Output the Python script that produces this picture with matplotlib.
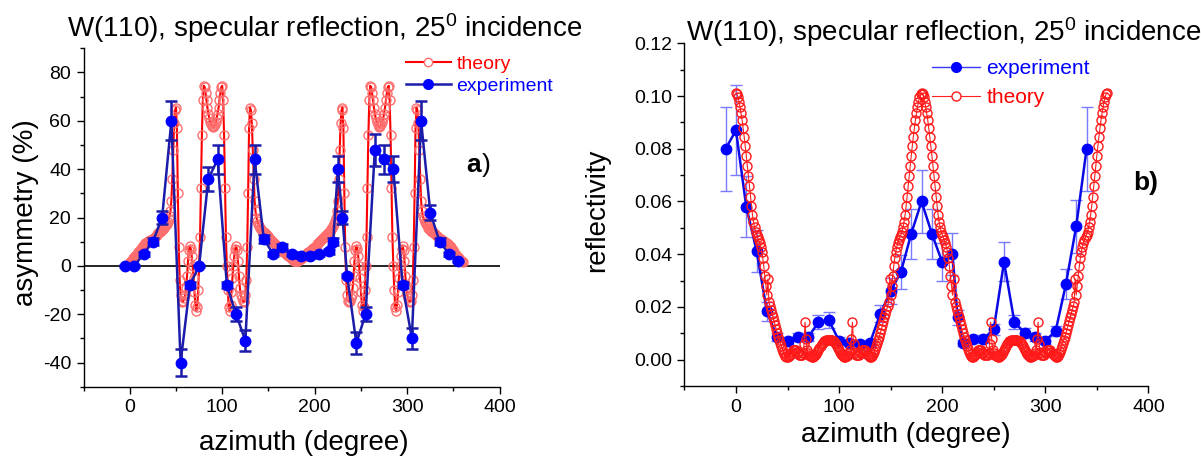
#!/usr/bin/env python3
"""W(110), specular reflection at 25 deg incidence.

Left: spin asymmetry vs azimuth, right: reflectivity vs azimuth.
Writes out.png.
"""

import matplotlib

matplotlib.use("Agg")
import matplotlib.pyplot as plt
from matplotlib.lines import Line2D
from matplotlib.ticker import FormatStrFormatter, MultipleLocator

W, H = 1201, 457

# ---- panel a: asymmetry (%) ----
ASYM_EXP_X = [-5, 5, 15, 25, 35, 45, 55, 65, 75, 85, 95, 105, 115, 125, 135, 145, 155, 165, 175,
              185, 195, 205, 215, 220, 225, 230, 235, 245, 255, 265, 275, 285, 295, 305, 315,
              325, 335, 345, 355]
ASYM_EXP_Y = [0, 0, 5, 10, 20, 60, -40, -8, 0, 36, 44, -8, -20, -31, 44, 11, 5, 8, 5,
              4, 4, 5, 6, 10, 40, 20, -4, -32, -20, 48, 44, 40, -8, -30, 60,
              22, 10, 5, 2]
ASYM_EXP_ERR = [0.3, 0.3, 0.8, 1.5, 2.8, 8, 5.5, 1.2, 0.3, 5, 6, 1.2, 2.8, 4.3, 6, 1.6, 0.8, 1.2, 0.8,
                0.6, 0.6, 0.8, 0.9, 1.5, 5.5, 2.8, 0.6, 4.5, 2.8, 6.5, 6, 5.5, 1.2, 4.3, 8,
                3, 1.5, 0.8, 0.3]

# calculated asymmetry, one value per degree from 0 to 360
ASYM_THEO_X = list(range(0, 361))
ASYM_THEO_Y = [
    1.5, 1.8, 2.1, 2.6, 3.1, 3.6, 4.1, 4.6, 5.1, 5.6,
    6.1, 6.6, 7.1, 7.6, 8.1, 8.6, 9.0, 9.3, 9.6, 9.9,
    10.2, 10.4, 10.6, 10.8, 11.0, 11.3, 11.6, 11.9, 12.3, 12.7,
    13.1, 13.5, 13.9, 14.2, 14.6, 15.0, 15.4, 15.8, 16.3, 16.9,
    17.5, 18.2, 19.2, 20.5, 22.5, 27.0, 36.0, 48.0, 59.0, 64.5,
    65.5, 57.0, 30.0, 8.0, -6.0, -12.0, -14.5, -15.0, -14.5, -13.5,
    -12.0, -9.0, -4.0, 2.0, 6.5, 8.3, 7.0, 4.0, 0.0, -5.0,
    -11.0, -16.0, -18.6, -17.0, -10.0, 0.0, 12.0, 32.0, 54.0, 68.5,
    74.5, 74.0, 71.5, 68.5, 65.5, 63.0, 61.0, 59.5, 58.5, 57.8,
    57.5, 57.8, 58.5, 59.5, 61.0, 63.0, 65.5, 68.5, 71.5, 74.0,
    74.5, 68.5, 54.0, 32.0, 12.0, 0.0, -10.0, -17.0, -18.6, -16.0,
    -11.0, -5.0, 0.0, 4.0, 7.0, 8.3, 6.5, 2.0, -4.0, -9.0,
    -12.0, -13.5, -14.5, -15.0, -14.5, -12.0, -6.0, 8.0, 30.0, 57.0,
    65.5, 64.5, 59.0, 48.0, 36.0, 27.0, 22.5, 20.0, 18.5, 17.3,
    16.4, 15.7, 15.1, 14.6, 14.2, 13.8, 13.4, 13.0, 12.6, 12.2,
    11.8, 11.4, 11.0, 10.6, 10.2, 9.8, 9.4, 9.0, 8.6, 8.2,
    7.8, 7.5, 7.2, 6.9, 6.6, 6.3, 5.9, 5.6, 5.2, 4.9,
    4.5, 4.2, 3.9, 3.6, 3.3, 3.0, 2.7, 2.4, 2.2, 2.0,
    1.9,
    2.0, 2.2, 2.4, 2.7, 3.0, 3.3, 3.6, 3.9, 4.2, 4.5,
    4.9, 5.2, 5.6, 5.9, 6.3, 6.6, 6.9, 7.2, 7.5, 7.8,
    8.2, 8.6, 9.0, 9.4, 9.8, 10.2, 10.6, 11.0, 11.4, 11.8,
    12.2, 12.6, 13.0, 13.4, 13.8, 14.2, 14.6, 15.1, 15.7, 16.4,
    17.3, 18.5, 20.0, 22.5, 27.0, 36.0, 48.0, 59.0, 64.5, 65.5,
    57.0, 30.0, 8.0, -6.0, -12.0, -14.5, -15.0, -14.5, -13.5, -12.0,
    -9.0, -4.0, 2.0, 6.5, 8.3, 7.0, 4.0, 0.0, -5.0, -11.0,
    -16.0, -18.6, -17.0, -10.0, 0.0, 12.0, 32.0, 54.0, 68.5, 74.5,
    74.0, 71.5, 68.5, 65.5, 63.0, 61.0, 59.5, 58.5, 57.8, 57.5,
    57.8, 58.5, 59.5, 61.0, 63.0, 65.5, 68.5, 71.5, 74.0, 74.5,
    68.5, 54.0, 32.0, 12.0, 0.0, -10.0, -17.0, -18.6, -16.0, -11.0,
    -5.0, 0.0, 4.0, 7.0, 8.3, 6.5, 2.0, -4.0, -9.0, -12.0,
    -13.5, -14.5, -15.0, -14.5, -12.0, -6.0, 8.0, 30.0, 57.0, 65.5,
    64.5, 59.0, 48.0, 36.0, 27.0, 22.5, 20.5, 19.2, 18.2, 17.5,
    16.9, 16.3, 15.8, 15.4, 15.0, 14.6, 14.2, 13.9, 13.5, 13.1,
    12.7, 12.3, 11.9, 11.6, 11.3, 11.0, 10.8, 10.6, 10.4, 10.2,
    9.9, 9.6, 9.3, 9.0, 8.6, 8.1, 7.6, 7.1, 6.6, 6.1,
    5.6, 5.1, 4.6, 4.1, 3.6, 3.1, 2.6, 2.1, 1.8, 1.5,
]

# ---- panel b: reflectivity ----
REFL_EXP_X = [-10, 0, 10, 20, 30, 40, 50, 60, 70, 80, 90, 100, 110, 120, 130, 140, 150, 160,
              170, 180, 190, 200, 210, 215, 220, 230, 240, 250, 260, 270, 280, 290, 300,
              310, 320, 330, 340]
REFL_EXP_Y = [0.080, 0.087, 0.058, 0.0413, 0.0183, 0.0085, 0.0072, 0.0085, 0.0085, 0.0142,
              0.0150, 0.0072, 0.0064, 0.0060, 0.0064, 0.0174, 0.026, 0.0333, 0.0478, 0.0600,
              0.0478, 0.0370, 0.0400, 0.0160, 0.0064, 0.0079, 0.0079, 0.0115, 0.0371, 0.0143,
              0.0101, 0.0086, 0.0072, 0.0108, 0.0286, 0.0506, 0.0798]
REFL_EXP_ERR = [0.016, 0.017, 0.0115, 0.008, 0.0035, 0.0015, 0.0012, 0.0015, 0.0015, 0.0027,
                0.003, 0.0012, 0.0011, 0.001, 0.0011, 0.0033, 0.005, 0.0065, 0.0095, 0.012,
                0.0095, 0.0072, 0.008, 0.003, 0.0011, 0.0014, 0.0014, 0.0022, 0.0074, 0.0027,
                0.0019, 0.0016, 0.0013, 0.002, 0.0057, 0.010, 0.016]

REFL_THEO_X = list(range(0, 361))
REFL_THEO_Y = [
    0.1012,
    0.1008, 0.0996, 0.0979, 0.0958, 0.0934, 0.0908, 0.0878, 0.0845, 0.0810, 0.0774,
    0.0736, 0.0697, 0.0657, 0.0618, 0.0582, 0.0550, 0.0523, 0.0502, 0.0486, 0.0474,
    0.0464, 0.0454, 0.0443, 0.0429, 0.0410, 0.0385, 0.0354, 0.0318, 0.0280, 0.0245,
    0.0305, 0.0218, 0.0202, 0.0188, 0.0174, 0.0160, 0.0145, 0.0130, 0.0115, 0.0100,
    0.0087, 0.0074, 0.0062, 0.0050, 0.0040, 0.0030, 0.0022, 0.0015, 0.0011, 0.0010,
    0.0012, 0.0017, 0.0023, 0.0030, 0.0035, 0.0038, 0.0038, 0.0035, 0.0030, 0.0024,
    0.0019, 0.0016, 0.0016, 0.0019, 0.0026, 0.0060, 0.0142, 0.0080, 0.0035, 0.0025,
    0.0019, 0.0015, 0.0012, 0.0010, 0.0010, 0.0012, 0.0016, 0.0022, 0.0030, 0.0038,
    0.0046, 0.0053, 0.0060, 0.0065, 0.0069, 0.0072, 0.0074, 0.0075, 0.0075, 0.0075,
    0.0075, 0.0075, 0.0074, 0.0072, 0.0069, 0.0065, 0.0060, 0.0053, 0.0046, 0.0038,
    0.0030, 0.0022, 0.0016, 0.0012, 0.0010, 0.0010, 0.0012, 0.0015, 0.0019, 0.0025,
    0.0035, 0.0080, 0.0142, 0.0060, 0.0026, 0.0019, 0.0016, 0.0016, 0.0019, 0.0024,
    0.0030, 0.0035, 0.0038, 0.0038, 0.0035, 0.0030, 0.0023, 0.0017, 0.0012, 0.0010,
    0.0011, 0.0015, 0.0022, 0.0030, 0.0040, 0.0050, 0.0062, 0.0074, 0.0087, 0.0100,
    0.0115, 0.0130, 0.0145, 0.0160, 0.0174, 0.0188, 0.0202, 0.0218, 0.0305, 0.0245,
    0.0280, 0.0318, 0.0354, 0.0385, 0.0410, 0.0429, 0.0443, 0.0454, 0.0464, 0.0474,
    0.0486, 0.0502, 0.0523, 0.0550, 0.0582, 0.0618, 0.0657, 0.0697, 0.0736, 0.0774,
    0.0810, 0.0845, 0.0878, 0.0908, 0.0934, 0.0958, 0.0979, 0.0996, 0.1008, 0.1012,
    0.1008, 0.0996, 0.0979, 0.0958, 0.0934, 0.0908, 0.0878, 0.0845, 0.0810, 0.0774,
    0.0736, 0.0697, 0.0657, 0.0618, 0.0582, 0.0550, 0.0523, 0.0502, 0.0486, 0.0474,
    0.0464, 0.0454, 0.0443, 0.0429, 0.0410, 0.0385, 0.0354, 0.0318, 0.0280, 0.0245,
    0.0305, 0.0218, 0.0202, 0.0188, 0.0174, 0.0160, 0.0145, 0.0130, 0.0115, 0.0100,
    0.0087, 0.0074, 0.0062, 0.0050, 0.0040, 0.0030, 0.0022, 0.0015, 0.0011, 0.0010,
    0.0012, 0.0017, 0.0023, 0.0030, 0.0035, 0.0038, 0.0038, 0.0035, 0.0030, 0.0024,
    0.0019, 0.0016, 0.0016, 0.0019, 0.0026, 0.0060, 0.0142, 0.0080, 0.0035, 0.0025,
    0.0019, 0.0015, 0.0012, 0.0010, 0.0010, 0.0012, 0.0016, 0.0022, 0.0030, 0.0038,
    0.0046, 0.0053, 0.0060, 0.0065, 0.0069, 0.0072, 0.0074, 0.0075, 0.0075, 0.0075,
    0.0075, 0.0075, 0.0074, 0.0072, 0.0069, 0.0065, 0.0060, 0.0053, 0.0046, 0.0038,
    0.0030, 0.0022, 0.0016, 0.0012, 0.0010, 0.0010, 0.0012, 0.0015, 0.0019, 0.0025,
    0.0035, 0.0080, 0.0142, 0.0060, 0.0026, 0.0019, 0.0016, 0.0016, 0.0019, 0.0024,
    0.0030, 0.0035, 0.0038, 0.0038, 0.0035, 0.0030, 0.0023, 0.0017, 0.0012, 0.0010,
    0.0011, 0.0015, 0.0022, 0.0030, 0.0040, 0.0050, 0.0062, 0.0074, 0.0087, 0.0100,
    0.0115, 0.0130, 0.0145, 0.0160, 0.0174, 0.0188, 0.0202, 0.0218, 0.0305, 0.0245,
    0.0280, 0.0318, 0.0354, 0.0385, 0.0410, 0.0429, 0.0443, 0.0454, 0.0464, 0.0474,
    0.0486, 0.0502, 0.0523, 0.0550, 0.0582, 0.0618, 0.0657, 0.0697, 0.0736, 0.0774,
    0.0810, 0.0845, 0.0878, 0.0908, 0.0934, 0.0958, 0.0979, 0.0996, 0.1008, 0.1012,
]

TITLE = "W(110), specular reflection, 25$^{0}$ incidence"


def px(x, y):
    """pixel position (from top-left) -> figure fraction"""
    return x / W, 1 - y / H


def base_style():
    plt.rcParams.update(
        {
            "font.family": "Liberation Sans",
            "mathtext.fontset": "custom",
            "mathtext.rm": "Liberation Sans",
            "mathtext.it": "Liberation Sans",
            "font.size": 14,
            "axes.linewidth": 1.0,
            "axes.unicode_minus": False,
        }
    )


def style_axes(ax):
    for side in ("top", "right"):
        ax.spines[side].set_visible(False)
    ax.tick_params(which="both", direction="out", width=1.0, labelsize=14, pad=4)
    ax.tick_params(which="major", length=5)
    ax.tick_params(which="minor", length=3)
    ax.xaxis.set_major_locator(MultipleLocator(100))
    ax.xaxis.set_minor_locator(MultipleLocator(50))
    ax.set_xlim(-50, 400)


def panel_a(fig):
    ax = fig.add_axes([83.5 / W, 70.3 / H, 416.2 / W, 338.4 / H])
    style_axes(ax)
    ax.set_ylim(-50, 90)
    ax.yaxis.set_major_locator(MultipleLocator(20))
    ax.yaxis.set_minor_locator(MultipleLocator(10))

    ax.axhline(0, color="black", lw=1.2, zorder=1)
    ax.plot(ASYM_THEO_X, ASYM_THEO_Y, color="#ff0000", lw=1.5, marker="o", ms=6.5,
            mfc="none", mec="#ff6e6e", mew=1.0, zorder=2)
    ax.errorbar(ASYM_EXP_X, ASYM_EXP_Y, yerr=ASYM_EXP_ERR, color="#1c1caa", lw=1.8,
                marker="o", ms=7.5, mfc="#0000ff", mec="#0000ff", ecolor="#1c1caa",
                elinewidth=1.8, capsize=4, capthick=1.8, zorder=3)

    handles = [
        Line2D([], [], color="#ff0000", lw=1.5, marker="o", ms=6, mfc="white", mec="#ff6e6e"),
        Line2D([], [], color="#1c1caa", lw=1.8, marker="o", ms=7, mfc="#0000ff", mec="#0000ff"),
    ]
    leg = ax.legend(handles, ["theory", "experiment"], loc="upper left",
                    bbox_to_anchor=px(406, 55), bbox_transform=fig.transFigure,
                    frameon=False, fontsize=14, handlelength=2.3, handletextpad=0.3,
                    labelspacing=0.25, borderpad=0, borderaxespad=0, numpoints=1)
    for text, col in zip(leg.get_texts(), ["#ff0000", "#0000ff"]):
        text.set_color(col)

    fig.text(*px(26, 213), "asymmetry (%)", rotation=90, ha="center", va="center", fontsize=20)
    fig.text(*px(304, 443), "azimuth (degree)", ha="center", va="center", fontsize=20)
    fig.text(*px(325, 36.7), TITLE, ha="center", va="baseline", fontsize=20)
    fig.text(*px(481, 165), "a", ha="right", va="center", fontsize=19, weight="bold")
    fig.text(*px(482, 165), ")", ha="left", va="center", fontsize=19)


def panel_b(fig):
    ax = fig.add_axes([684.4 / W, 71.0 / H, 464.0 / W, 342.7 / H])
    style_axes(ax)
    ax.set_ylim(-0.01, 0.12)
    ax.yaxis.set_major_locator(MultipleLocator(0.02))
    ax.yaxis.set_minor_locator(MultipleLocator(0.01))
    ax.yaxis.set_major_formatter(FormatStrFormatter("%.2f"))

    ax.errorbar(REFL_EXP_X, REFL_EXP_Y, yerr=REFL_EXP_ERR, color="#0a0ae6", lw=1.8,
                marker="o", ms=7.5, mfc="#0000ff", mec="#0000ff", ecolor="#7a7aff",
                elinewidth=1.0, capsize=4, capthick=1.0, zorder=2)
    ax.plot(REFL_THEO_X, REFL_THEO_Y, color="#ff2020", lw=0.8, marker="o", ms=6.5,
            mfc="none", mec="#ff1a1a", mew=1.0, zorder=3)

    handles = [
        Line2D([], [], color="#3a3aff", lw=1.0, marker="o", ms=7, mfc="#0000ff", mec="#0000ff"),
        Line2D([], [], color="#ff2020", lw=0.8, marker="o", ms=6.5, mfc="white", mec="#ff1a1a"),
    ]
    leg = ax.legend(handles, ["experiment", "theory"], loc="upper left",
                    bbox_to_anchor=px(932, 59), bbox_transform=fig.transFigure,
                    frameon=False, fontsize=15, handlelength=2.3, handletextpad=0.3,
                    labelspacing=0.5, borderpad=0, borderaxespad=0, numpoints=1)
    for text, col in zip(leg.get_texts(), ["#0000ff", "#ff0000"]):
        text.set_color(col)

    fig.text(*px(597, 210), "reflectivity", rotation=90, ha="center", va="center", fontsize=20)
    fig.text(*px(906, 435), "azimuth (degree)", ha="center", va="center", fontsize=20)
    fig.text(*px(944, 40.7), TITLE, ha="center", va="baseline", fontsize=20)
    fig.text(*px(1146, 183), "b)", ha="center", va="center", fontsize=19, weight="bold")


def main():
    base_style()
    fig = plt.figure(figsize=(W / 100, H / 100), dpi=100)
    panel_a(fig)
    panel_b(fig)
    fig.savefig("out.png", dpi=100)
    plt.close(fig)


if __name__ == "__main__":
    main()
